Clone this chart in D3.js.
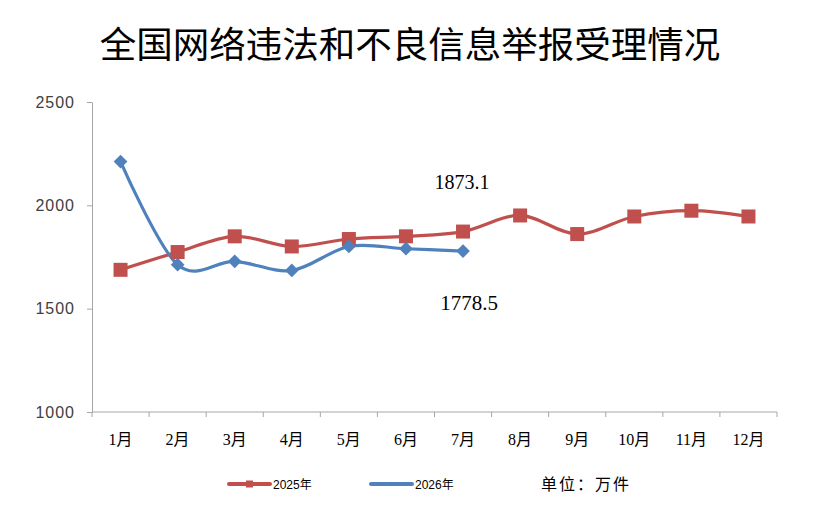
<!DOCTYPE html>
<html>
<head>
<meta charset="utf-8">
<script src="https://cdn.jsdelivr.net/npm/d3@7"></script>
<style>
  body { margin: 0; background: #fff; }
  svg { display: block; }
</style>
</head>
<body>
<svg id="chart"></svg>
<script>
// data
var months = ["1月", "2月", "3月", "4月", "5月", "6月", "7月", "8月", "9月", "10月", "11月", "12月"];
var values2025 = [1688, 1774, 1850, 1801, 1837, 1850, 1873.1, 1951, 1861, 1946, 1974, 1946];
var values2026 = [2212, 1713, 1729, 1685, 1801, 1790, 1778.5];
var yTicks = [1000, 1500, 2000, 2500];
var seriesNames = ["2025年", "2026年"];

var width = 837,
    height = 513,
    plotLeft = 92,
    plotRight = 777,
    plotTop = 102,
    plotBottom = 412;

var red = "#C0504D",
    blue = "#4F81BD",
    axisColor = "#A6A6A6";

var svg = d3.select("#chart")
    .attr("width", width)
    .attr("height", height);

// title
svg.append("text")
    .attr("x", 410)
    .attr("y", 58)
    .attr("text-anchor", "middle")
    .style("font-family", "'Noto Sans CJK SC', sans-serif")
    .style("font-size", "36.5px")
    .style("fill", "#000")
    .text("全国网络违法和不良信息举报受理情况");

var x = d3.scaleBand()
    .domain(months)
    .range([plotLeft, plotRight]);

var y = d3.scaleLinear()
    .domain([1000, 2500])
    .range([plotBottom, plotTop]);

function cx(i) { return x(months[i]) + x.bandwidth() / 2; }

// y axis
var yAxis = svg.append("g")
    .attr("transform", "translate(" + plotLeft + ",0)")
    .call(d3.axisLeft(y).tickValues(yTicks).tickFormat(d3.format("d")).tickSize(5).tickSizeOuter(0));
yAxis.select(".domain").attr("stroke", axisColor);
yAxis.selectAll(".tick line").attr("stroke", axisColor);
yAxis.selectAll(".tick text")
    .attr("x", -17)
    .style("font-family", "'Liberation Sans', sans-serif")
    .style("font-size", "16px")
    .style("letter-spacing", "1px")
    .style("fill", "#404040");

// x axis: ticks sit on category boundaries
var xAxis = svg.append("g")
    .attr("transform", "translate(0," + plotBottom + ")");
xAxis.append("line")
    .attr("x1", plotLeft).attr("x2", plotRight)
    .attr("stroke", axisColor);
xAxis.selectAll("line.tick")
    .data(d3.range(months.length + 1))
    .enter()
    .append("line")
    .attr("class", "tick")
    .attr("x1", function(d) { return plotLeft + d * x.step(); })
    .attr("x2", function(d) { return plotLeft + d * x.step(); })
    .attr("y2", 5)
    .attr("stroke", axisColor);
xAxis.selectAll("text")
    .data(months)
    .enter()
    .append("text")
    .attr("x", function(d) { return x(d) + x.bandwidth() / 2; })
    .attr("y", 33)
    .attr("text-anchor", "middle")
    .style("font-family", "'Liberation Serif', 'Noto Sans CJK SC', serif")
    .style("font-size", "16px")
    .style("fill", "#000")
    .text(function(d) { return d; });

var line = d3.line()
    .x(function(d, i) { return cx(i); })
    .y(function(d) { return y(d); })
    .curve(d3.curveCardinal.tension(0));

svg.append("path")
    .datum(values2025)
    .attr("d", line)
    .attr("fill", "none")
    .attr("stroke", red)
    .attr("stroke-width", 3.2);

svg.append("path")
    .datum(values2026)
    .attr("d", line)
    .attr("fill", "none")
    .attr("stroke", blue)
    .attr("stroke-width", 3.2);

var sq = 14;
svg.selectAll("rect.m2025")
    .data(values2025)
    .enter()
    .append("rect")
    .attr("class", "m2025")
    .attr("x", function(d, i) { return cx(i) - sq / 2; })
    .attr("y", function(d) { return y(d) - sq / 2; })
    .attr("width", sq)
    .attr("height", sq)
    .attr("fill", red);

var diamond = d3.symbol().type(d3.symbolDiamond2).size(120);
svg.selectAll("path.m2026")
    .data(values2026)
    .enter()
    .append("path")
    .attr("class", "m2026")
    .attr("d", diamond)
    .attr("transform", function(d, i) { return "translate(" + cx(i) + "," + y(d) + ")"; })
    .attr("fill", blue);

// data labels for the latest month
var last = values2026.length - 1;
svg.append("text")
    .attr("x", cx(last) - 1)
    .attr("y", y(values2025[last]) - 43)
    .attr("text-anchor", "middle")
    .style("font-family", "'Liberation Serif', serif")
    .style("font-size", "20px")
    .style("fill", "#000")
    .text(values2025[last].toFixed(1));

svg.append("text")
    .attr("x", cx(last) + 6)
    .attr("y", y(values2026[last]) + 59)
    .attr("text-anchor", "middle")
    .style("font-family", "'Liberation Serif', serif")
    .style("font-size", "21px")
    .style("fill", "#000")
    .text(values2026[last].toFixed(1));

// legend
var legend = svg.append("g").attr("transform", "translate(0,484)");
var legendItems = [
  { name: seriesNames[0], color: red, x: 229 },
  { name: seriesNames[1], color: blue, x: 371 }
];
legendItems.forEach(function(item, k) {
  var g = legend.append("g").attr("transform", "translate(" + item.x + ",0)");
  g.append("line")
      .attr("x1", 0).attr("x2", 41)
      .attr("stroke", item.color)
      .attr("stroke-width", 4)
      .attr("stroke-linecap", "round");
  if (k == 0) {
    g.append("rect")
        .attr("x", 17).attr("y", -3.5)
        .attr("width", 7).attr("height", 7)
        .attr("fill", item.color);
  } else {
    g.append("path")
        .attr("d", d3.symbol().type(d3.symbolDiamond2).size(14))
        .attr("transform", "translate(20.5,0)")
        .attr("fill", item.color);
  }
  g.append("text")
      .attr("x", 44)
      .attr("y", 4.5)
      .style("font-family", "'Liberation Sans Narrow', 'Liberation Sans', 'Noto Sans CJK SC', sans-serif")
      .style("font-size", "12px")
      .style("fill", "#000")
      .text(item.name);
});

svg.append("text")
    .attr("x", 541)
    .attr("y", 490)
    .style("font-family", "'Noto Sans CJK SC', sans-serif")
    .style("font-size", "16px")
    .style("letter-spacing", "2px")
    .style("fill", "#000")
    .text("单位：万件");
</script>
</body>
</html>
